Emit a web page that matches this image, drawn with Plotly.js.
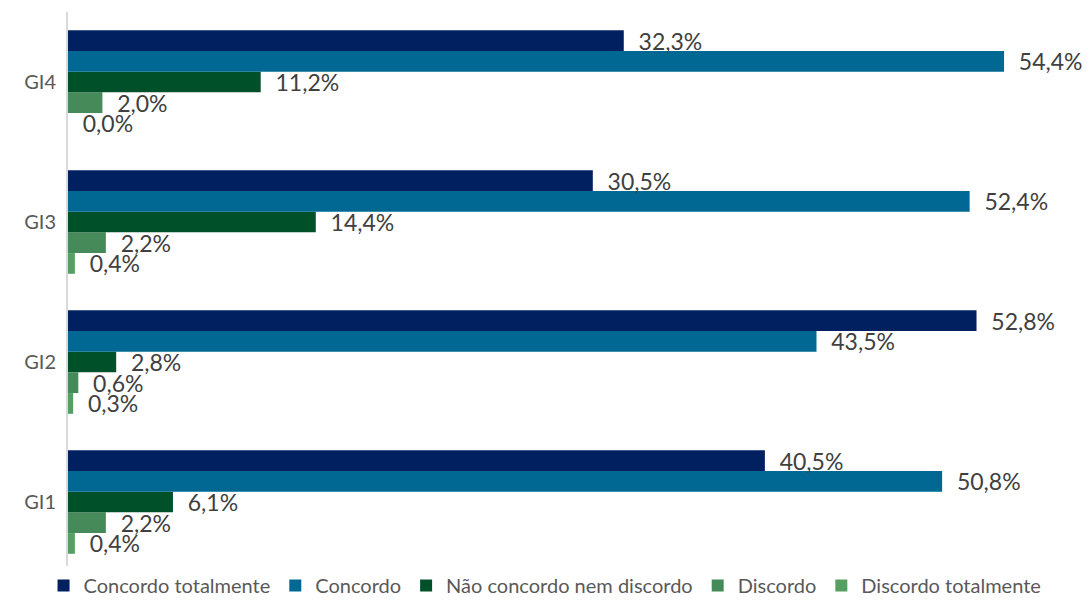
<!DOCTYPE html>
<html>
<head>
<meta charset="utf-8">
<script src="https://cdn.plot.ly/plotly-3.0.1.min.js"></script>
<style>html,body{margin:0;padding:0;background:#fff;}#chart{width:1089px;height:605px;}</style>
</head>
<body>
<div id="chart"></div>
<script>
var categories = ['GI1', 'GI2', 'GI3', 'GI4'];
var seriesNames = ['Concordo totalmente', 'Concordo', 'Não concordo nem discordo', 'Discordo', 'Discordo totalmente'];
var concordoTotalmente = [40.5, 52.8, 30.5, 32.3];
var concordo = [50.8, 43.5, 52.4, 54.4];
var naoConcordoNemDiscordo = [6.1, 2.8, 14.4, 11.2];
var discordo = [2.2, 0.6, 2.2, 2.0];
var discordoTotalmente = [0.4, 0.3, 0.4, 0.0];
var seriesValues = [concordoTotalmente, concordo, naoConcordoNemDiscordo, discordo, discordoTotalmente];
var colors = ['#002060', '#006892', '#00502A', '#468A5A', '#55A060'];

var traces = [];
for (var i = seriesValues.length - 1; i >= 0; i--) {
  traces.push({
    type: 'bar',
    orientation: 'h',
    name: seriesNames[i],
    y: categories,
    x: seriesValues[i],
    marker: {color: colors[i]},
    texttemplate: '\u00a0\u00a0%{x:.1f}%',
    textposition: 'outside',
    constraintext: 'none',
    cliponaxis: false,
    textfont: {family: 'Lato, "Open Sans", sans-serif', size: 23, color: '#404040'},
    hoverinfo: 'skip'
  });
}

var layout = {
  width: 1089,
  height: 605,
  margin: {l: 68, r: 23, t: 12, b: 33, autoexpand: false},
  paper_bgcolor: '#ffffff',
  plot_bgcolor: '#ffffff',
  barmode: 'group',
  bargap: 0.26,
  bargroupgap: 0,
  separators: ',.',
  font: {family: 'Lato, "Open Sans", sans-serif', color: '#595959'},
  showlegend: true,
  legend: {
    orientation: 'h',
    traceorder: 'reversed',
    x: 0.478,
    xanchor: 'center',
    yref: 'container',
    y: 0,
    yanchor: 'bottom',
    font: {size: 20, color: '#595959'},
    itemwidth: 30
  },
  xaxis: {
    range: [0, 58],
    autorange: false,
    showgrid: false,
    zeroline: false,
    showticklabels: false,
    showline: false,
    ticks: ''
  },
  yaxis: {
    type: 'category',
    categoryorder: 'array',
    categoryarray: categories,
    showgrid: false,
    zeroline: false,
    showline: true,
    linecolor: '#d9d9d9',
    linewidth: 2,
    ticks: '',
    ticklabelstandoff: 6,
    tickfont: {size: 20, color: '#595959'}
  }
};

Plotly.newPlot('chart', traces, layout, {displayModeBar: false, staticPlot: true});
</script>
</body>
</html>
